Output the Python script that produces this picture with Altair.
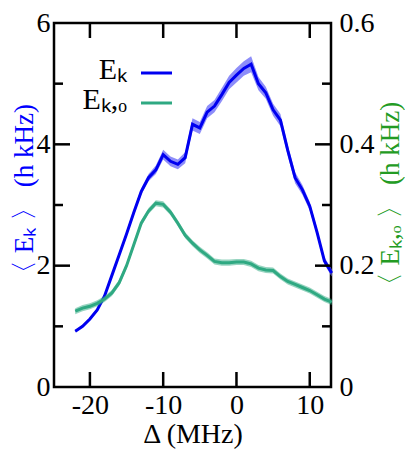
import altair as alt
import pandas as pd

# Detuning (MHz)
delta = list(range(-22, 14))
# <E_k> (h kHz), left axis
ek = [0.92, 1.00, 1.12, 1.27, 1.50, 1.84, 2.18, 2.52, 2.88,
      3.22, 3.45, 3.58, 3.83, 3.72, 3.67, 3.78, 4.33, 4.27,
      4.53, 4.63, 4.82, 5.02, 5.14, 5.25, 5.32, 5.00, 4.85,
      4.57, 4.40, 3.90, 3.45, 3.25, 2.98, 2.55, 2.08, 1.88]
ek_err = [0.02, 0.02, 0.02, 0.03, 0.03, 0.04, 0.04, 0.04, 0.05,
          0.05, 0.06, 0.07, 0.08, 0.08, 0.08, 0.09, 0.10, 0.10,
          0.10, 0.10, 0.11, 0.11, 0.12, 0.12, 0.13, 0.11, 0.10,
          0.10, 0.10, 0.09, 0.09, 0.08, 0.07, 0.06, 0.06, 0.06]
# <E_k,o> (h kHz), right axis
eko = [0.125, 0.130, 0.133, 0.138, 0.145, 0.155, 0.172, 0.200, 0.235,
       0.270, 0.290, 0.303, 0.301, 0.288, 0.270, 0.250, 0.237, 0.226,
       0.217, 0.207, 0.205, 0.205, 0.206, 0.206, 0.203, 0.196, 0.193,
       0.192, 0.182, 0.174, 0.169, 0.164, 0.159, 0.152, 0.145, 0.140]
eko_err = [0.005] * 36

left_major = [2, 4]
left_minor = [1, 3, 5]
right_major = [0.2, 0.4]
right_minor = [0.1, 0.3, 0.5]
x_major = [-20, -10, 0, 10]

W, H = 277, 364
FONT = "Liberation Serif"
BLUE = "#0000f0"
GREEN = "#2fa982"
TITLE_GREEN = "#239b23"

df = pd.DataFrame({"d": delta, "ek": ek, "eko": eko})
df["ek_lo"] = [a - b for a, b in zip(ek, ek_err)]
df["ek_hi"] = [a + b for a, b in zip(ek, ek_err)]
df["eko_lo"] = [a - b for a, b in zip(eko, eko_err)]
df["eko_hi"] = [a + b for a, b in zip(eko, eko_err)]

xs = alt.Scale(domain=[-24.9, 12.9], nice=False, zero=False)
ys_l = alt.Scale(domain=[0, 6], nice=False, zero=False)
ys_r = alt.Scale(domain=[0, 0.6], nice=False, zero=False)

X_TITLE = "Δ (MHz)"
L_TITLE = "〈 Eₖ 〉 (h kHz)"
R_TITLE = "〈 Eₖ,ₒ 〉 (h kHz)"
common = dict(labelFont=FONT, titleFont=FONT, labelFontSize=28,
              titleFontWeight="normal", labelColor="black",
              grid=False, ticks=False, domain=False)
x_axis = alt.Axis(values=x_major, labelPadding=4, titleFontSize=28,
                  labelExpr="datum.value < 0 ? '-' + abs(datum.value) : '' + datum.value",
                  titleColor="black", titleY=55, titleBaseline="alphabetic", **common)
l_axis = alt.Axis(orient="left", values=[0, 2, 4, 6], labelPadding=4, titleFontSize=27,
                  titleColor="blue", titleX=-30, titleY=172,
                  titleAlign="center", titleBaseline="middle", titleAngle=270, **common)
r_axis = alt.Axis(orient="right", values=[0, 0.2, 0.4, 0.6], labelPadding=8, titleFontSize=27,
                  labelExpr="datum.value == 0 ? '0' : format(datum.value, '.1f')",
                  titleColor=TITLE_GREEN, titleX=59, titleY=177,
                  titleAlign="center", titleBaseline="middle", titleAngle=270, **common)


def X(field):
    return alt.X(field, scale=xs, title=X_TITLE, axis=x_axis)


def YL(field):
    return alt.Y(field, scale=ys_l, title=L_TITLE, axis=l_axis)


def YR(field):
    return alt.Y(field, scale=ys_r, title=R_TITLE, axis=r_axis)


base = alt.Chart(df)

blue_band = base.mark_area(color="#7070f8", opacity=0.8).encode(
    x=X("d:Q"), y=YL("ek_lo:Q"), y2="ek_hi:Q")
blue_line = base.mark_line(color=BLUE, strokeWidth=3).encode(
    x=X("d:Q"), y=YL("ek:Q"))

tick_l_major = alt.Chart(pd.DataFrame({"v": left_major})).mark_rule(color="black", strokeWidth=2.5).encode(
    y=YL("v:Q"), x=alt.value(0), x2=alt.value(16))
tick_l_minor = alt.Chart(pd.DataFrame({"v": left_minor})).mark_rule(color="black", strokeWidth=2.5).encode(
    y=YL("v:Q"), x=alt.value(0), x2=alt.value(9))
tick_bottom = alt.Chart(pd.DataFrame({"v": x_major})).mark_rule(color="black", strokeWidth=2.5).encode(
    x=X("v:Q"), y=alt.value(H - 15), y2=alt.value(H))
tick_top = alt.Chart(pd.DataFrame({"v": x_major})).mark_rule(color="black", strokeWidth=2.5).encode(
    x=X("v:Q"), y=alt.value(0), y2=alt.value(15))

leg_text1 = alt.Chart(pd.DataFrame({"t": ["Eₖ"]})).mark_text(
    font=FONT, fontSize=30, align="right", baseline="middle", color="black").encode(
    text="t:N", x=alt.value(73), y=alt.value(47))
leg_text2 = alt.Chart(pd.DataFrame({"t": ["Eₖ,ₒ"]})).mark_text(
    font=FONT, fontSize=30, align="right", baseline="middle", color="black").encode(
    text="t:N", x=alt.value(73), y=alt.value(77))
leg_line1 = alt.Chart(pd.DataFrame({"t": ["a"]})).mark_rule(color=BLUE, strokeWidth=3).encode(
    x=alt.value(87), x2=alt.value(118), y=alt.value(50))
leg_line2 = alt.Chart(pd.DataFrame({"t": ["a"]})).mark_rule(color=GREEN, strokeWidth=3).encode(
    x=alt.value(87), x2=alt.value(118), y=alt.value(80))

left = alt.layer(blue_band, blue_line, tick_l_major, tick_l_minor, tick_bottom, tick_top,
                 leg_text1, leg_text2, leg_line1, leg_line2)

green_band = base.mark_area(color=GREEN, opacity=0.5).encode(
    x=X("d:Q"), y=YR("eko_lo:Q"), y2="eko_hi:Q")
green_line = base.mark_line(color=GREEN, strokeWidth=3).encode(
    x=X("d:Q"), y=YR("eko:Q"))
tick_r_major = alt.Chart(pd.DataFrame({"v": right_major})).mark_rule(color="black", strokeWidth=2.5).encode(
    y=YR("v:Q"), x=alt.value(W - 16), x2=alt.value(W))
tick_r_minor = alt.Chart(pd.DataFrame({"v": right_minor})).mark_rule(color="black", strokeWidth=2.5).encode(
    y=YR("v:Q"), x=alt.value(W - 9), x2=alt.value(W))

right = alt.layer(green_band, green_line, tick_r_major, tick_r_minor)

chart = alt.layer(left, right).resolve_scale(y="independent").properties(
    width=W, height=H,
    autosize=alt.AutoSizeParams(type="none"),
    padding={"left": 46, "top": 15, "right": 74, "bottom": 62},
).configure(
    font=FONT,
    style={"guide-label": {"font": FONT}, "guide-title": {"font": FONT}},
).configure_view(stroke="black", strokeWidth=2.5).configure_axis(
    labelFont=FONT, titleFont=FONT,
)

chart.save("out.html", embed_options={"renderer": "svg", "actions": False})
